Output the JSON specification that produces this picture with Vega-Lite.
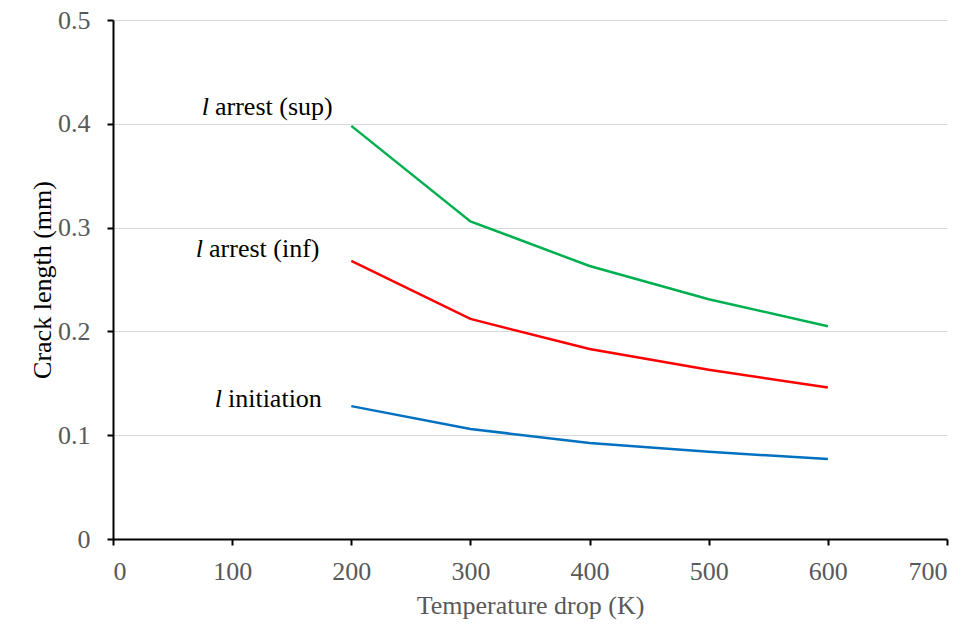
{
  "$schema": "https://vega.github.io/schema/vega-lite/v6.json",
  "width": 834,
  "height": 519,
  "autosize": {"type": "none"},
  "padding": {"left": 113, "top": 20, "right": 32, "bottom": 99},
  "background": "white",
  "config": {
    "view": {"stroke": null},
    "font": "Liberation Serif"
  },
  "datasets": {
    "lines": [
      {"series": "sup", "drop": 200, "len": 0.398},
      {"series": "sup", "drop": 300, "len": 0.306},
      {"series": "sup", "drop": 400, "len": 0.263},
      {"series": "sup", "drop": 500, "len": 0.231},
      {"series": "sup", "drop": 600, "len": 0.205},
      {"series": "inf", "drop": 200, "len": 0.268},
      {"series": "inf", "drop": 300, "len": 0.212},
      {"series": "inf", "drop": 400, "len": 0.183},
      {"series": "inf", "drop": 500, "len": 0.163},
      {"series": "inf", "drop": 600, "len": 0.146},
      {"series": "init", "drop": 200, "len": 0.128},
      {"series": "init", "drop": 300, "len": 0.106},
      {"series": "init", "drop": 400, "len": 0.0925},
      {"series": "init", "drop": 500, "len": 0.084},
      {"series": "init", "drop": 600, "len": 0.077}
    ],
    "labels": [
      {"series": "sup", "drop": 85.6, "len": 0.4085, "sym": "l", "rest": "arrest (sup)"},
      {"series": "inf", "drop": 80.6, "len": 0.2717, "sym": "l", "rest": "arrest (inf)"},
      {"series": "init", "drop": 96.5, "len": 0.1272, "sym": "l", "rest": "initiation"}
    ]
  },
  "layer": [
    {
      "data": {"name": "lines"},
      "mark": {"type": "line", "strokeWidth": 2.5},
      "encoding": {
        "x": {
          "field": "drop", "type": "quantitative",
          "scale": {"domain": [0, 700], "nice": false},
          "axis": {
            "title": "Temperature drop (K)",
            "values": [0, 100, 200, 300, 400, 500, 600, 700],
            "grid": false,
            "domainColor": "black", "domainWidth": 2,
            "tickColor": "black", "tickWidth": 2, "tickSize": 6,
            "labelFontSize": 26, "labelColor": "#595959", "labelPadding": 13,
            "labelFont": "Liberation Serif",
            "titleFont": "Liberation Serif", "titleFontSize": 26, "titleFontWeight": "normal",
            "titleColor": "#595959", "titlePadding": 8
          }
        },
        "y": {
          "field": "len", "type": "quantitative",
          "scale": {"domain": [0, 0.5], "nice": false},
          "axis": {
            "title": "Crack length (mm)",
            "values": [0, 0.1, 0.2, 0.3, 0.4, 0.5],
            "format": "~g",
            "grid": true, "gridColor": "#d9d9d9", "gridWidth": 1,
            "domainColor": "black", "domainWidth": 2,
            "tickColor": "black", "tickWidth": 2, "tickSize": 6,
            "labelFontSize": 26, "labelColor": "#595959", "labelPadding": 17,
            "labelFont": "Liberation Serif",
            "titleFont": "Liberation Serif", "titleFontSize": 26, "titleFontWeight": "normal",
            "titleColor": "black", "titlePadding": 2
          }
        },
        "color": {
          "field": "series", "type": "nominal",
          "scale": {"domain": ["sup", "inf", "init"], "range": ["#00B050", "#FF0000", "#0070C0"]},
          "legend": null
        }
      }
    },
    {
      "data": {"name": "labels"},
      "mark": {"type": "text", "align": "left", "baseline": "alphabetic", "fontSize": 26, "font": "Liberation Serif", "color": "black"},
      "encoding": {
        "x": {"field": "drop", "type": "quantitative"},
        "y": {"field": "len", "type": "quantitative"},
        "text": {"field": "rest"}
      }
    },
    {
      "data": {"name": "labels"},
      "mark": {"type": "text", "align": "right", "baseline": "alphabetic", "dx": -6, "fontSize": 26, "fontStyle": "italic", "font": "Liberation Serif", "color": "black"},
      "encoding": {
        "x": {"field": "drop", "type": "quantitative"},
        "y": {"field": "len", "type": "quantitative"},
        "text": {"field": "sym"}
      }
    }
  ]
}
